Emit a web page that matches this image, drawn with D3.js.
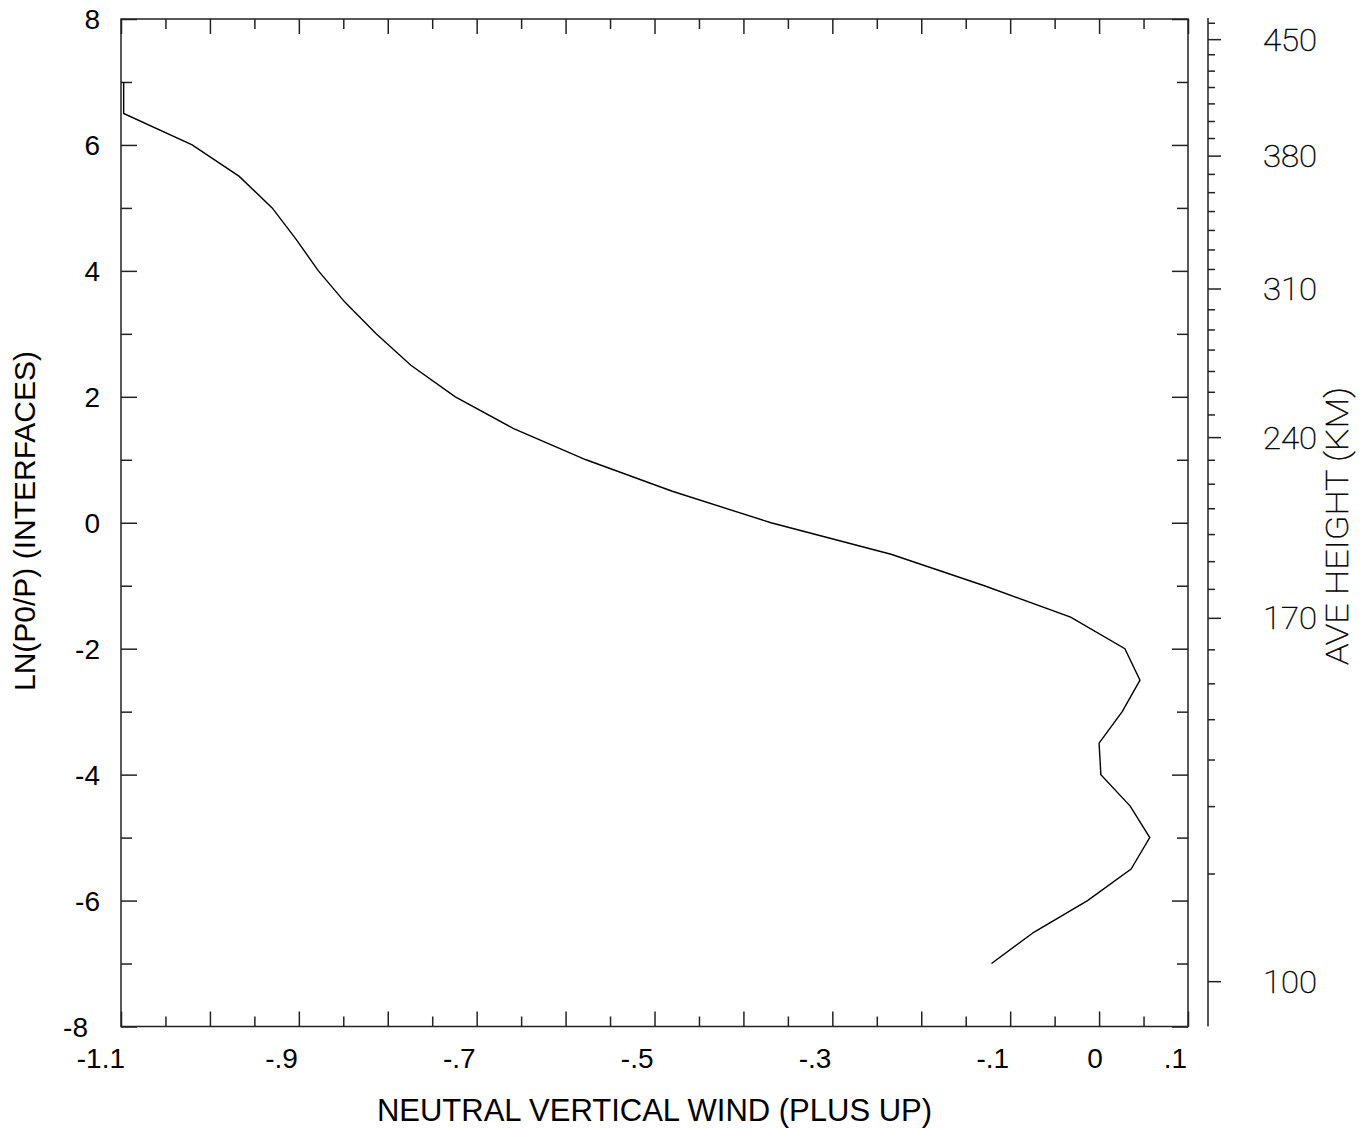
<!DOCTYPE html>
<html>
<head>
<meta charset="utf-8">
<script src="https://cdn.jsdelivr.net/npm/d3@7"></script>
<style>
  html, body { margin: 0; padding: 0; background: #fff; }
  svg { display: block; }
  .lbl { font-family: "Liberation Sans", Arial, sans-serif; fill: #000; }
  .thin { font-family: "Roboto", "DejaVu Sans", sans-serif; font-weight: 100; fill: #000; stroke: #000; stroke-width: 0.5; }
</style>
</head>
<body>
<svg id="chart" width="1365" height="1128"></svg>
<script>
// ---------------- data ----------------
const lnP = [7.0, 6.5, 6.0, 5.5, 5.0, 4.5, 4.0, 3.5, 3.0, 2.5, 2.0, 1.5, 1.0, 0.5, 0.0,
             -0.5, -1.0, -1.5, -2.0, -2.5, -3.0, -3.5, -4.0, -4.5, -5.0, -5.5, -6.0, -6.5, -7.0];
const wind = [-1.097, -1.097, -1.020, -0.967, -0.930, -0.903, -0.878, -0.848, -0.813, -0.774,
              -0.724, -0.659, -0.577, -0.480, -0.369, -0.234, -0.129, -0.032, 0.029, 0.046,
              0.026, 0.000, 0.002, 0.035, 0.057, 0.036, -0.013, -0.073, -0.121];

const xTickLabels = ["-1.1", "-.9", "-.7", "-.5", "-.3", "-.1", "0", ".1"];
const xTickValues = [-1.1, -0.9, -0.7, -0.5, -0.3, -0.1, 0.0, 0.1];
const yTickValues = [8, 6, 4, 2, 0, -2, -4, -6, -8];
const yTickLabels = ["8", "6", "4", "2", "0", "-2", "-4", "-6", "-8"];

// right axis: average height (km) and the LN(P0/P) level where it sits
const heightKm  = [460, 450, 440, 430, 420, 410, 400, 390, 380, 370, 360, 350, 340, 330, 320, 310,
                   300, 290, 280, 270, 260, 250, 240, 230, 220, 210, 200, 190, 180, 170, 160, 150,
                   140, 130, 120, 110, 100];
const heightLnP = [7.94, 7.68, 7.44, 7.18, 6.92, 6.66, 6.38, 6.11, 5.83, 5.54, 5.25, 4.95, 4.65, 4.34,
                   4.03, 3.72, 3.39, 3.07, 2.75, 2.41, 2.08, 1.72, 1.36, 1.00, 0.62, 0.23, -0.18,
                   -0.61, -1.05, -1.51, -2.01, -2.55, -3.12, -3.76, -4.50, -5.57, -7.28];
const heightLabels = [450, 380, 310, 240, 170, 100];

const xTitle = "NEUTRAL VERTICAL WIND (PLUS UP)";
const yTitle = "LN(P0/P) (INTERFACES)";
const rTitle = "AVE HEIGHT (KM)";

// ---------------- layout ----------------
const L = 121, R = 1188, T = 19, B = 1026.5;
const svg = d3.select("#chart");
const x = d3.scaleLinear().domain([-1.1, 0.1]).range([L, R]);
const y = d3.scaleLinear().domain([-8, 8]).range([B, T]);

const axisColor = "#222";

function styleAxis(g) {
  g.select(".domain").remove();
  g.selectAll(".tick line").attr("stroke", axisColor).attr("stroke-width", 1.5);
  g.selectAll(".tick text").remove();
}

// x ticks: major every 0.1, minor every 0.05
const xMajor = d3.range(-11, 2).map(i => i / 10);
const xMinor = d3.range(-21, 2, 2).map(i => i / 20);
svg.append("g").attr("transform", `translate(0,${B})`)
  .call(d3.axisBottom(x).tickValues(xMajor).tickSizeInner(-15).tickSizeOuter(0)).call(styleAxis);
svg.append("g").attr("transform", `translate(0,${B})`)
  .call(d3.axisBottom(x).tickValues(xMinor).tickSizeInner(-10).tickSizeOuter(0)).call(styleAxis);
svg.append("g").attr("transform", `translate(0,${T})`)
  .call(d3.axisTop(x).tickValues(xMajor).tickSizeInner(-15).tickSizeOuter(0)).call(styleAxis);
svg.append("g").attr("transform", `translate(0,${T})`)
  .call(d3.axisTop(x).tickValues(xMinor).tickSizeInner(-10).tickSizeOuter(0)).call(styleAxis);

// y ticks: major every 2, minor odd
const yMajor = d3.range(-8, 9, 2);
const yMinor = d3.range(-7, 8, 2);
svg.append("g").attr("transform", `translate(${L},0)`)
  .call(d3.axisLeft(y).tickValues(yMajor).tickSizeInner(-16).tickSizeOuter(0)).call(styleAxis);
svg.append("g").attr("transform", `translate(${L},0)`)
  .call(d3.axisLeft(y).tickValues(yMinor).tickSizeInner(-11).tickSizeOuter(0)).call(styleAxis);
svg.append("g").attr("transform", `translate(${R},0)`)
  .call(d3.axisRight(y).tickValues(yMajor).tickSizeInner(-16).tickSizeOuter(0)).call(styleAxis);
svg.append("g").attr("transform", `translate(${R},0)`)
  .call(d3.axisRight(y).tickValues(yMinor).tickSizeInner(-11).tickSizeOuter(0)).call(styleAxis);

// frame
svg.append("rect").attr("x", L).attr("y", T).attr("width", R - L).attr("height", B - T)
  .attr("fill", "none").attr("stroke", axisColor).attr("stroke-width", 1.5);

// x tick labels
svg.append("g").selectAll("text").data(xTickValues).join("text")
  .attr("class", "lbl")
  .attr("font-size", 28)
  .attr("x", (d, i) => xTickLabels[i] === "0" ? x(d) - 4 : (xTickLabels[i] === "-1.1" ? x(d) + 4 : x(d) - 1))
  .attr("y", B + 41)
  .attr("text-anchor", (d, i) => xTickLabels[i] === "0" ? "middle" : "end")
  .text((d, i) => xTickLabels[i]);

// y tick labels
svg.append("g").selectAll("text").data(yTickValues).join("text")
  .attr("class", "lbl")
  .attr("font-size", 28)
  .attr("x", d => d === -8 ? L - 33 : L - 21)
  .attr("y", d => y(d) + 10)
  .attr("text-anchor", "end")
  .text((d, i) => yTickLabels[i]);

// titles
svg.append("text").attr("class", "lbl").attr("font-size", 31)
  .attr("x", (L + R) / 2).attr("y", 1121).attr("text-anchor", "middle").text(xTitle);
svg.append("text").attr("class", "lbl").attr("font-size", 30)
  .attr("transform", "translate(35,521) rotate(-90)").attr("text-anchor", "middle").text(yTitle);

// curve
const line = d3.line().x(d => x(d[0])).y(d => y(d[1]));
svg.append("path").datum(wind.map((w, i) => [w, lnP[i]]))
  .attr("d", line).attr("fill", "none").attr("stroke", "#000").attr("stroke-width", 1.4)
  .attr("stroke-linejoin", "miter");

// right height axis
const RX = 1208;
const hScale = d3.scaleLinear().domain(heightKm).range(heightLnP.map(v => y(v)));
svg.append("line").attr("x1", RX).attr("x2", RX).attr("y1", T - 1).attr("y2", B)
  .attr("stroke", axisColor).attr("stroke-width", 1.5);
svg.append("g").attr("transform", `translate(${RX},0)`)
  .call(d3.axisRight(hScale).tickValues(heightKm.filter(h => !heightLabels.includes(h))).tickSizeInner(7).tickSizeOuter(0))
  .call(styleAxis);
svg.append("g").attr("transform", `translate(${RX},0)`)
  .call(d3.axisRight(hScale).tickValues(heightLabels).tickSizeInner(13).tickSizeOuter(0))
  .call(styleAxis);
svg.append("g").selectAll("text").data(heightLabels).join("text")
  .attr("class", "thin").attr("font-size", 32)
  .attr("x", 1317).attr("y", d => hScale(d) + 11.5)
  .attr("text-anchor", "end")
  .attr("textLength", 54).attr("lengthAdjust", "spacingAndGlyphs")
  .text(d => d);
svg.append("text").attr("class", "thin").attr("font-size", 32)
  .attr("transform", "translate(1348,526) rotate(-90)").attr("text-anchor", "middle")
  .attr("textLength", 278).attr("lengthAdjust", "spacingAndGlyphs")
  .text(rTitle);
</script>
</body>
</html>
